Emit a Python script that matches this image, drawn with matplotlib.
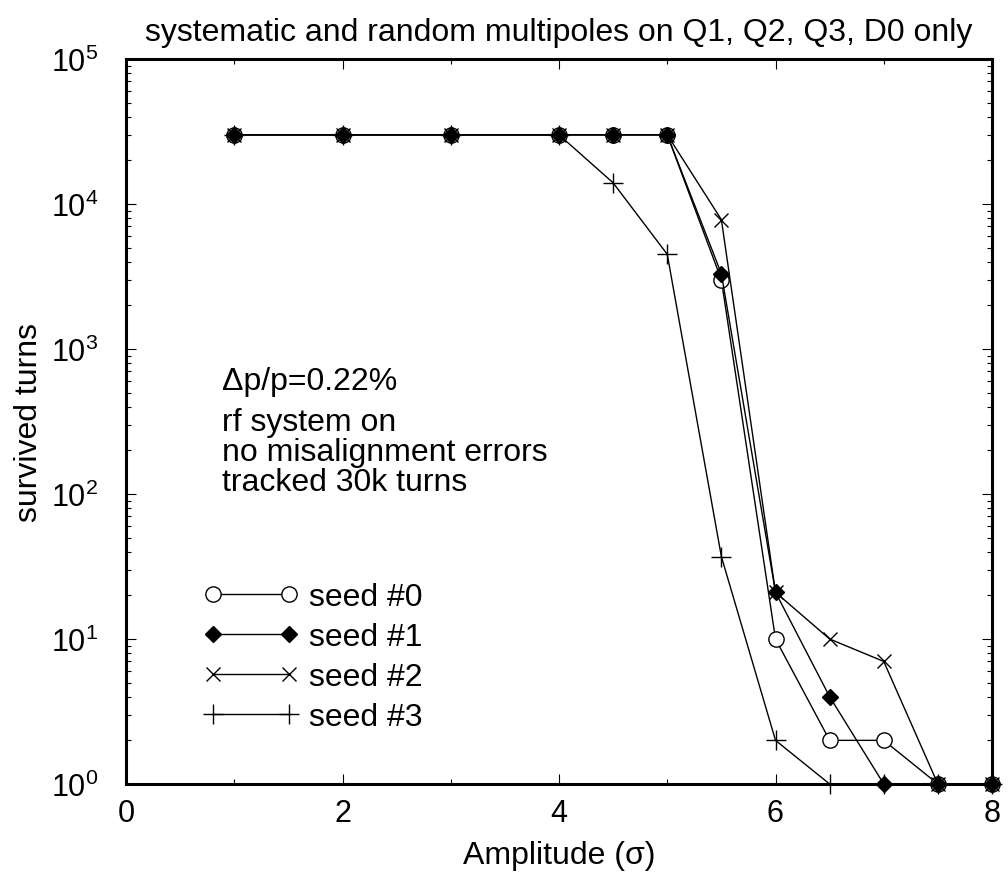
import matplotlib
matplotlib.use("Agg")
import matplotlib.pyplot as plt
from matplotlib.ticker import LogLocator, NullFormatter, MultipleLocator

plt.rcParams['font.family'] = ['Liberation Sans', 'DejaVu Sans']
plt.rcParams['mathtext.fontset'] = 'custom'
plt.rcParams['mathtext.rm'] = 'Liberation Sans'

# Amplitude scan (sigma) and surviving turns for each seed
amp0 = [1, 2, 3, 4, 4.5, 5, 5.5, 6, 6.5, 7, 7.5, 8]
turns0 = [30000, 30000, 30000, 30000, 30000, 30000, 3000, 10, 2, 2, 1, 1]

amp1 = [1, 2, 3, 4, 4.5, 5, 5.5, 6, 6.5, 7, 7.5, 8]
turns1 = [30000, 30000, 30000, 30000, 30000, 30000, 3300, 21, 4, 1, 1, 1]

amp2 = [1, 2, 3, 4, 4.5, 5, 5.5, 6, 6.5, 7, 7.5, 8]
turns2 = [30000, 30000, 30000, 30000, 30000, 30000, 7800, 21, 10, 7, 1, 1]

amp3 = [1, 2, 3, 4, 4.5, 5, 5.5, 6, 6.5, 7, 7.5, 8]
turns3 = [30000, 30000, 30000, 30000, 14000, 4500, 37, 2, 1, 1, 1, 1]

labels = ["seed #0", "seed #1", "seed #2", "seed #3"]
notes = ["\u0394p/p=0.22%", "rf system on", "no misalignment errors", "tracked 30k turns"]

FS = 23

fig = plt.figure(figsize=(10.08, 8.78), dpi=100)
ax = fig.add_axes([126 / 1008, 1 - 785 / 878, (992 - 126) / 1008, (785 - 60) / 878])

common = dict(color="black", lw=1.0, clip_on=False)
ax.plot(amp0, turns0, marker="o", ms=11, mfc="white", mec="black", mew=1.0, label=labels[0], **common)
ax.plot(amp1, turns1, marker="D", ms=8, mfc="black", mec="black", label=labels[1], **common)
ax.plot(amp2, turns2, marker="x", ms=9.5, mew=1.0, label=labels[2], **common)
ax.plot(amp3, turns3, marker="+", ms=14, mew=1.0, label=labels[3], **common)

ax.set_yscale("log")
ax.set_xlim(0, 8)
ax.set_ylim(1, 1e5)

ax.xaxis.set_major_locator(MultipleLocator(2))
ax.xaxis.set_minor_locator(MultipleLocator(1))
ax.yaxis.set_major_locator(LogLocator(base=10, numticks=10))
ax.yaxis.set_minor_locator(LogLocator(base=10, subs=range(2, 10), numticks=100))
ax.yaxis.set_minor_formatter(NullFormatter())

ax.tick_params(which="both", direction="in", top=True, right=True, labelsize=22)
ax.tick_params(axis="y", pad=20)
ax.tick_params(axis="x", pad=10)
ax.tick_params(which="major", length=7, width=0.8)
ax.tick_params(which="minor", length=3.8, width=0.8)
for s in ax.spines.values():
    s.set_linewidth(2.2)

ax.set_xlabel("Amplitude (\u03c3)", fontsize=FS, labelpad=9)
ax.set_ylabel("survived turns", fontsize=FS, labelpad=5)
ax.set_title("systematic and random multipoles on Q1, Q2, Q3, D0 only", fontsize=FS, pad=14)

# Run conditions, written as a text block inside the axes
note_x = (222 - 126) / 866
note_base = [390, 431, 461, 491]
for t, yb in zip(notes, note_base):
    ax.text(note_x, (785 - yb) / 725, t, transform=ax.transAxes, fontsize=FS, va="baseline")

leg = ax.legend(loc="upper left", bbox_to_anchor=(0.0894, 0.278), frameon=False, fontsize=FS,
                numpoints=2, handlelength=2.98, handletextpad=0.33, labelspacing=0.31,
                borderpad=0, borderaxespad=0)

fig.savefig("out.png", dpi=100)
